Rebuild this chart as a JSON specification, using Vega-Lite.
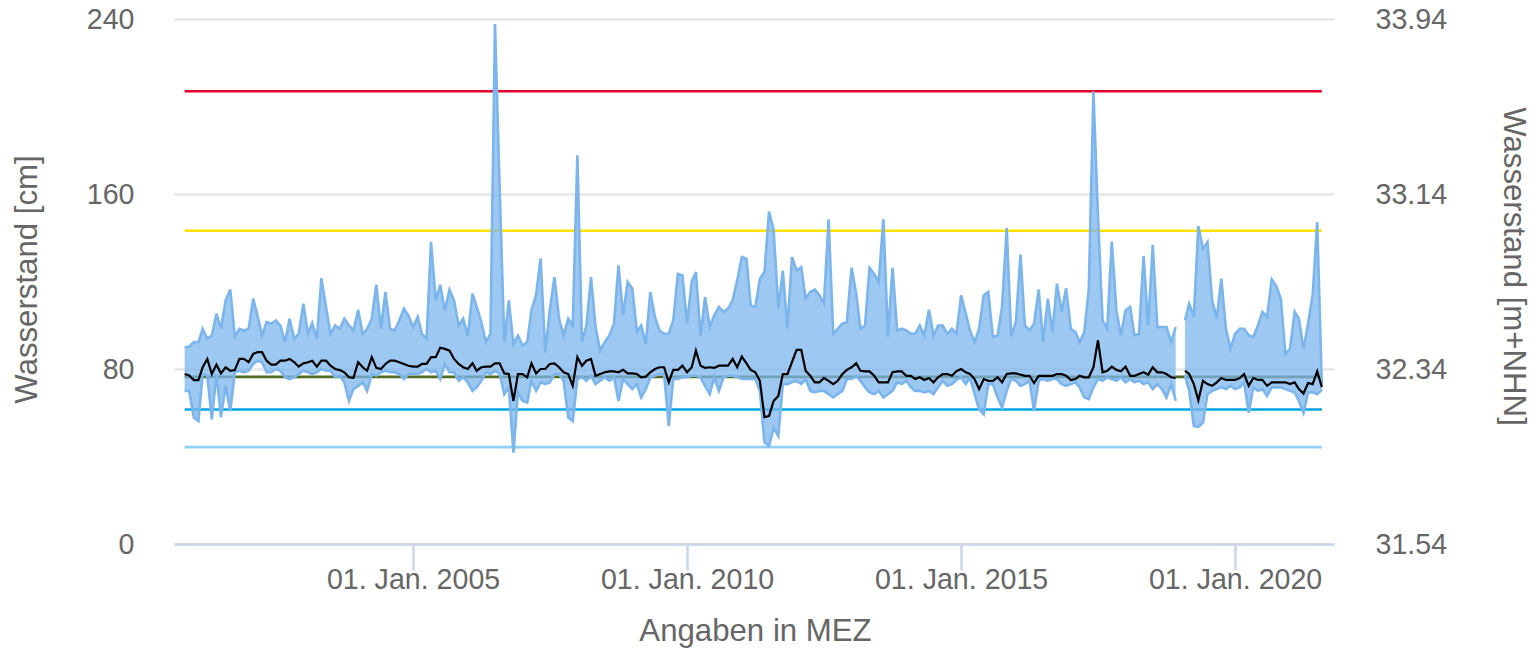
{
  "$schema": "https://vega.github.io/schema/vega-lite/v6.json",
  "width": 1160,
  "height": 525,
  "autosize": {"type": "none"},
  "padding": {"left": 174, "top": 19, "right": 206, "bottom": 104},
  "config": {
    "view": {"stroke": null},
    "font": "Liberation Sans",
    "axis": {
      "labelFont": "Liberation Sans", "titleFont": "Liberation Sans",
      "labelColor": "#666666", "titleColor": "#666666",
      "labelFontSize": 28.6, "titleFontSize": 31.2, "titleFontWeight": "normal",
      "labelFlush": false, "labelOverlap": false, "labelBound": false
    }
  },
  "datasets": {
    "limits": [
      {"name": "s1", "value": 207, "start": "2000-11-01", "end": "2021-08-01"},
      {"name": "s2", "value": 143.2, "start": "2000-11-01", "end": "2021-08-01"},
      {"name": "s3", "value": 76.4, "start": "2000-11-01", "end": "2021-08-01"},
      {"name": "s4", "value": 61.5, "start": "2000-11-01", "end": "2021-08-01"},
      {"name": "s5", "value": 44.3, "start": "2000-11-01", "end": "2021-08-01"}
    ],
    "series": [
      {"d":"2000-11-01","max":90,"min":70,"mean":77.7},
      {"d":"2000-12-01","max":90.2,"min":70,"mean":77},
      {"d":"2001-01-01","max":92.3,"min":57.8,"mean":74.9},
      {"d":"2001-02-01","max":92.3,"min":56.2,"mean":74.9},
      {"d":"2001-03-01","max":98.4,"min":77.7,"mean":80.8},
      {"d":"2001-04-01","max":93.8,"min":76.9,"mean":84.6},
      {"d":"2001-05-01","max":95.3,"min":57,"mean":77.7},
      {"d":"2001-06-01","max":105.3,"min":77.7,"mean":82},
      {"d":"2001-07-01","max":98.4,"min":58,"mean":78},
      {"d":"2001-08-01","max":111.4,"min":72.3,"mean":80.8},
      {"d":"2001-09-01","max":116.3,"min":60.8,"mean":79.2},
      {"d":"2001-10-01","max":94.9,"min":78.5,"mean":79.5},
      {"d":"2001-11-01","max":98.4,"min":79.2,"mean":84.6},
      {"d":"2001-12-01","max":97.6,"min":78.5,"mean":84.6},
      {"d":"2002-01-01","max":98.4,"min":79.2,"mean":83.1},
      {"d":"2002-02-01","max":112.2,"min":82.3,"mean":86.9},
      {"d":"2002-03-01","max":104.5,"min":83.8,"mean":87.7},
      {"d":"2002-04-01","max":95.3,"min":83.1,"mean":87.7},
      {"d":"2002-05-01","max":101.5,"min":78.5,"mean":83.8},
      {"d":"2002-06-01","max":100.7,"min":78.5,"mean":82},
      {"d":"2002-07-01","max":102.2,"min":80,"mean":82},
      {"d":"2002-08-01","max":99.9,"min":79.2,"mean":83.8},
      {"d":"2002-09-01","max":92.3,"min":76.2,"mean":83.8},
      {"d":"2002-10-01","max":103,"min":75.4,"mean":84.6},
      {"d":"2002-11-01","max":93.8,"min":76.2,"mean":83.1},
      {"d":"2002-12-01","max":96,"min":77.7,"mean":81.1},
      {"d":"2003-01-01","max":109.9,"min":79.2,"mean":82.6},
      {"d":"2003-02-01","max":96,"min":78.5,"mean":83.1},
      {"d":"2003-03-01","max":101,"min":77.7,"mean":83.8},
      {"d":"2003-04-01","max":93.8,"min":78.5,"mean":81.1},
      {"d":"2003-05-01","max":121.5,"min":80,"mean":83.8},
      {"d":"2003-06-01","max":108.4,"min":79.2,"mean":83.8},
      {"d":"2003-07-01","max":96,"min":79.2,"mean":81.5},
      {"d":"2003-08-01","max":99.9,"min":76.2,"mean":80},
      {"d":"2003-09-01","max":98.4,"min":76.9,"mean":79.5},
      {"d":"2003-10-01","max":103,"min":73.9,"mean":78.5},
      {"d":"2003-11-01","max":99.9,"min":65.4,"mean":76.2},
      {"d":"2003-12-01","max":97.6,"min":70.8,"mean":76},
      {"d":"2004-01-01","max":107.1,"min":72.3,"mean":83.1},
      {"d":"2004-02-01","max":96,"min":73.9,"mean":80.8},
      {"d":"2004-03-01","max":98.4,"min":70,"mean":79.2},
      {"d":"2004-04-01","max":103,"min":77.7,"mean":85.4},
      {"d":"2004-05-01","max":118.5,"min":77,"mean":80.5},
      {"d":"2004-06-01","max":98.4,"min":78.5,"mean":80},
      {"d":"2004-07-01","max":115.2,"min":79.2,"mean":82.3},
      {"d":"2004-08-01","max":98.4,"min":78.5,"mean":83.8},
      {"d":"2004-09-01","max":97.6,"min":78.5,"mean":83.8},
      {"d":"2004-10-01","max":102.2,"min":77.7,"mean":83.1},
      {"d":"2004-11-01","max":107.6,"min":75.4,"mean":82.3},
      {"d":"2004-12-01","max":104.5,"min":77.7,"mean":81.5},
      {"d":"2005-01-01","max":99.2,"min":77.7,"mean":81.1},
      {"d":"2005-02-01","max":103.8,"min":77.7,"mean":81.1},
      {"d":"2005-03-01","max":96.1,"min":78.5,"mean":82.3},
      {"d":"2005-04-01","max":93.8,"min":80,"mean":82.3},
      {"d":"2005-05-01","max":138,"min":78.5,"mean":85.4},
      {"d":"2005-06-01","max":111.4,"min":79.2,"mean":85.4},
      {"d":"2005-07-01","max":118.5,"min":75.4,"mean":89.7},
      {"d":"2005-08-01","max":106.8,"min":82.3,"mean":89.2},
      {"d":"2005-09-01","max":116.2,"min":78.5,"mean":88.4},
      {"d":"2005-10-01","max":111.4,"min":78.5,"mean":84.6},
      {"d":"2005-11-01","max":99.9,"min":74.6,"mean":82.3},
      {"d":"2005-12-01","max":103,"min":76.2,"mean":80.8},
      {"d":"2006-01-01","max":95.3,"min":73.9,"mean":80},
      {"d":"2006-02-01","max":114.5,"min":70,"mean":82.6},
      {"d":"2006-03-01","max":108.4,"min":71.6,"mean":79.2},
      {"d":"2006-04-01","max":101.5,"min":74.6,"mean":80.8},
      {"d":"2006-05-01","max":92.3,"min":78.5,"mean":81.1},
      {"d":"2006-06-01","max":96.1,"min":77.7,"mean":81.1},
      {"d":"2006-07-01","max":237.7,"min":79.2,"mean":82.6},
      {"d":"2006-08-01","max":163,"min":77.7,"mean":82.6},
      {"d":"2006-09-01","max":92.3,"min":68.5,"mean":78},
      {"d":"2006-10-01","max":111.4,"min":71.6,"mean":77.7},
      {"d":"2006-11-01","max":91.5,"min":41.7,"mean":65.4},
      {"d":"2006-12-01","max":95.3,"min":69.3,"mean":77.7},
      {"d":"2007-01-01","max":90.7,"min":65.4,"mean":77.7},
      {"d":"2007-02-01","max":92.3,"min":64.7,"mean":76.2},
      {"d":"2007-03-01","max":106.8,"min":74.6,"mean":82.6},
      {"d":"2007-04-01","max":114,"min":70,"mean":78},
      {"d":"2007-05-01","max":130.5,"min":73.9,"mean":80},
      {"d":"2007-06-01","max":87.7,"min":73.1,"mean":80},
      {"d":"2007-07-01","max":106.8,"min":73.9,"mean":82.3},
      {"d":"2007-08-01","max":122,"min":77.7,"mean":82.6},
      {"d":"2007-09-01","max":103,"min":77.7,"mean":80.8},
      {"d":"2007-10-01","max":95.3,"min":74.6,"mean":78.5},
      {"d":"2007-11-01","max":103,"min":57.8,"mean":77.7},
      {"d":"2007-12-01","max":99.9,"min":56.2,"mean":72.3},
      {"d":"2008-01-01","max":177.7,"min":75.4,"mean":85.4},
      {"d":"2008-02-01","max":92.3,"min":76.2,"mean":81.5},
      {"d":"2008-03-01","max":99.9,"min":74.6,"mean":83.8},
      {"d":"2008-04-01","max":122,"min":76.9,"mean":84.6},
      {"d":"2008-05-01","max":99.2,"min":73.1,"mean":76.9},
      {"d":"2008-06-01","max":88.4,"min":74.6,"mean":77.7},
      {"d":"2008-07-01","max":92.3,"min":76.2,"mean":78.5},
      {"d":"2008-08-01","max":95.3,"min":74.6,"mean":78.9},
      {"d":"2008-09-01","max":100.7,"min":76.2,"mean":78.9},
      {"d":"2008-10-01","max":127.4,"min":65.4,"mean":78.5},
      {"d":"2008-11-01","max":104.5,"min":75.4,"mean":79.6},
      {"d":"2008-12-01","max":119.8,"min":73.1,"mean":78},
      {"d":"2009-01-01","max":116.8,"min":70.8,"mean":78},
      {"d":"2009-02-01","max":96.9,"min":73.1,"mean":77.7},
      {"d":"2009-03-01","max":99.9,"min":67,"mean":76.2},
      {"d":"2009-04-01","max":91.5,"min":70.8,"mean":76.5},
      {"d":"2009-05-01","max":115.2,"min":76.2,"mean":78.5},
      {"d":"2009-06-01","max":103.8,"min":76.9,"mean":80},
      {"d":"2009-07-01","max":97.6,"min":77.7,"mean":80.8},
      {"d":"2009-08-01","max":96.1,"min":77.7,"mean":80.8},
      {"d":"2009-09-01","max":96.1,"min":53.9,"mean":73.9},
      {"d":"2009-10-01","max":102.2,"min":75.4,"mean":79.6},
      {"d":"2009-11-01","max":123.5,"min":75.4,"mean":79.6},
      {"d":"2009-12-01","max":122.8,"min":76.2,"mean":81.5},
      {"d":"2010-01-01","max":100.7,"min":76.2,"mean":78.5},
      {"d":"2010-02-01","max":119.8,"min":76.9,"mean":80.8},
      {"d":"2010-03-01","max":124.3,"min":76.9,"mean":88.4},
      {"d":"2010-04-01","max":95.3,"min":76.2,"mean":81.5},
      {"d":"2010-05-01","max":112.9,"min":72.3,"mean":80.5},
      {"d":"2010-06-01","max":99.2,"min":68.5,"mean":80.8},
      {"d":"2010-07-01","max":104.5,"min":76.2,"mean":80.5},
      {"d":"2010-08-01","max":108.4,"min":70,"mean":81.5},
      {"d":"2010-09-01","max":106.1,"min":76.2,"mean":81.5},
      {"d":"2010-10-01","max":107.6,"min":76.9,"mean":81.5},
      {"d":"2010-11-01","max":111.5,"min":76.9,"mean":84.6},
      {"d":"2010-12-01","max":120.5,"min":76.2,"mean":80.8},
      {"d":"2011-01-01","max":131.2,"min":75.4,"mean":85.7},
      {"d":"2011-02-01","max":130.4,"min":75.4,"mean":82.6},
      {"d":"2011-03-01","max":109.1,"min":75.4,"mean":79.6},
      {"d":"2011-04-01","max":108.4,"min":75.4,"mean":78.5},
      {"d":"2011-05-01","max":121.2,"min":70,"mean":74.6},
      {"d":"2011-06-01","max":124.5,"min":46.5,"mean":58},
      {"d":"2011-07-01","max":152,"min":44.8,"mean":58.5},
      {"d":"2011-08-01","max":143.4,"min":53.2,"mean":65.4},
      {"d":"2011-09-01","max":107.6,"min":49.3,"mean":67.7},
      {"d":"2011-10-01","max":125,"min":73.1,"mean":77.7},
      {"d":"2011-11-01","max":98.4,"min":73.1,"mean":77.7},
      {"d":"2011-12-01","max":131.2,"min":73.9,"mean":83.1},
      {"d":"2012-01-01","max":125,"min":74.6,"mean":88.7},
      {"d":"2012-02-01","max":126.6,"min":73.1,"mean":88.7},
      {"d":"2012-03-01","max":112.2,"min":75.4,"mean":79.2},
      {"d":"2012-04-01","max":115.2,"min":70,"mean":76.9},
      {"d":"2012-05-01","max":116.4,"min":69.3,"mean":73.9},
      {"d":"2012-06-01","max":113.7,"min":70,"mean":73.9},
      {"d":"2012-07-01","max":109.9,"min":70,"mean":75.9},
      {"d":"2012-08-01","max":148.4,"min":68.5,"mean":74.6},
      {"d":"2012-09-01","max":96.1,"min":67,"mean":73.1},
      {"d":"2012-10-01","max":98.4,"min":68.5,"mean":74.6},
      {"d":"2012-11-01","max":100.7,"min":70,"mean":77.7},
      {"d":"2012-12-01","max":101.5,"min":75.4,"mean":79.6},
      {"d":"2013-01-01","max":126.3,"min":75.4,"mean":80.8},
      {"d":"2013-02-01","max":114.5,"min":76.9,"mean":82.6},
      {"d":"2013-03-01","max":98.4,"min":74.6,"mean":79.2},
      {"d":"2013-04-01","max":99.9,"min":71.6,"mean":78.9},
      {"d":"2013-05-01","max":126.3,"min":69.3,"mean":78.9},
      {"d":"2013-06-01","max":123.5,"min":68.5,"mean":76.9},
      {"d":"2013-07-01","max":119.8,"min":70,"mean":73.9},
      {"d":"2013-08-01","max":148.4,"min":67,"mean":73.9},
      {"d":"2013-09-01","max":94.9,"min":68.5,"mean":73.9},
      {"d":"2013-10-01","max":126.3,"min":70,"mean":78.5},
      {"d":"2013-11-01","max":97.6,"min":73.9,"mean":78.9},
      {"d":"2013-12-01","max":98.4,"min":73.1,"mean":78.9},
      {"d":"2014-01-01","max":97.6,"min":74.6,"mean":76.9},
      {"d":"2014-02-01","max":96.1,"min":71.6,"mean":76.9},
      {"d":"2014-03-01","max":96.1,"min":70,"mean":75.4},
      {"d":"2014-04-01","max":99.9,"min":70,"mean":76.2},
      {"d":"2014-05-01","max":95.3,"min":69.3,"mean":75},
      {"d":"2014-06-01","max":107.1,"min":70,"mean":75.9},
      {"d":"2014-07-01","max":95.3,"min":68.5,"mean":73.9},
      {"d":"2014-08-01","max":99.9,"min":71.6,"mean":76.2},
      {"d":"2014-09-01","max":99.9,"min":74.6,"mean":77.7},
      {"d":"2014-10-01","max":96.1,"min":72.3,"mean":77.7},
      {"d":"2014-11-01","max":98.4,"min":73.1,"mean":76.9},
      {"d":"2014-12-01","max":96.1,"min":75,"mean":79},
      {"d":"2015-01-01","max":113.7,"min":76.2,"mean":80},
      {"d":"2015-02-01","max":105.3,"min":73.1,"mean":78.5},
      {"d":"2015-03-01","max":97.6,"min":76.2,"mean":77.7},
      {"d":"2015-04-01","max":92.3,"min":68.5,"mean":75.4},
      {"d":"2015-05-01","max":98.4,"min":61.6,"mean":70.8},
      {"d":"2015-06-01","max":113.7,"min":59.3,"mean":75.4},
      {"d":"2015-07-01","max":115.2,"min":73.1,"mean":74.6},
      {"d":"2015-08-01","max":94.6,"min":73.1,"mean":74.6},
      {"d":"2015-09-01","max":95.3,"min":67,"mean":76.2},
      {"d":"2015-10-01","max":108.4,"min":62.4,"mean":73.9},
      {"d":"2015-11-01","max":144.4,"min":70,"mean":77.7},
      {"d":"2015-12-01","max":94.9,"min":75.4,"mean":78},
      {"d":"2016-01-01","max":101.5,"min":74.6,"mean":78},
      {"d":"2016-02-01","max":132.3,"min":72.3,"mean":77.4},
      {"d":"2016-03-01","max":99.9,"min":73.1,"mean":76.9},
      {"d":"2016-04-01","max":97.6,"min":74.6,"mean":76.9},
      {"d":"2016-05-01","max":100.7,"min":60.8,"mean":73.6},
      {"d":"2016-06-01","max":116.4,"min":74.6,"mean":76.9},
      {"d":"2016-07-01","max":92.3,"min":75.4,"mean":76.9},
      {"d":"2016-08-01","max":112.2,"min":74.6,"mean":76.9},
      {"d":"2016-09-01","max":96.9,"min":75.4,"mean":76.9},
      {"d":"2016-10-01","max":119,"min":75.4,"mean":77.7},
      {"d":"2016-11-01","max":106.1,"min":73.1,"mean":77.7},
      {"d":"2016-12-01","max":117,"min":72.3,"mean":76.9},
      {"d":"2017-01-01","max":98.4,"min":73.1,"mean":74.9},
      {"d":"2017-02-01","max":96.9,"min":73.9,"mean":75.4},
      {"d":"2017-03-01","max":92.3,"min":71.6,"mean":76.9},
      {"d":"2017-04-01","max":96.9,"min":67,"mean":76.2},
      {"d":"2017-05-01","max":116.7,"min":66.2,"mean":76.2},
      {"d":"2017-06-01","max":207,"min":71.6,"mean":80.8},
      {"d":"2017-07-01","max":150,"min":75.4,"mean":93.2},
      {"d":"2017-08-01","max":102.2,"min":74.6,"mean":78.5},
      {"d":"2017-09-01","max":98.4,"min":76.2,"mean":79.2},
      {"d":"2017-10-01","max":138.3,"min":75.4,"mean":81.1},
      {"d":"2017-11-01","max":106.8,"min":74.6,"mean":79.6},
      {"d":"2017-12-01","max":95.3,"min":76.2,"mean":79},
      {"d":"2018-01-01","max":106.8,"min":73.9,"mean":81.1},
      {"d":"2018-02-01","max":108.4,"min":75.4,"mean":76.9},
      {"d":"2018-03-01","max":95.3,"min":73.9,"mean":76.9},
      {"d":"2018-04-01","max":96.1,"min":74.6,"mean":77.7},
      {"d":"2018-05-01","max":131.6,"min":73.1,"mean":78.5},
      {"d":"2018-06-01","max":99.9,"min":73.9,"mean":77.4},
      {"d":"2018-07-01","max":136.8,"min":70.8,"mean":80.8},
      {"d":"2018-08-01","max":99.2,"min":73.1,"mean":78.5},
      {"d":"2018-09-01","max":99.2,"min":70.8,"mean":78.5},
      {"d":"2018-10-01","max":99.2,"min":67,"mean":77.7},
      {"d":"2018-11-01","max":92.3,"min":73.1,"mean":76.2},
      {"d":"2018-12-01","max":99.2,"min":65.4,"mean":75.9},
      {"d":"2019-01-01","max":null,"min":null,"mean":null},
      {"d":"2019-02-01","max":102.2,"min":76.9,"mean":79.2},
      {"d":"2019-03-01","max":109.9,"min":70,"mean":77.7},
      {"d":"2019-04-01","max":103.8,"min":53.9,"mean":73.1},
      {"d":"2019-05-01","max":145.3,"min":53.5,"mean":65.7},
      {"d":"2019-06-01","max":135,"min":55.5,"mean":74.6},
      {"d":"2019-07-01","max":138,"min":68.5,"mean":73.1},
      {"d":"2019-08-01","max":111.4,"min":70,"mean":72.3},
      {"d":"2019-09-01","max":103,"min":70.8,"mean":73.9},
      {"d":"2019-10-01","max":121.3,"min":71.6,"mean":75.9},
      {"d":"2019-11-01","max":98.4,"min":70.8,"mean":75},
      {"d":"2019-12-01","max":89.2,"min":72.3,"mean":75},
      {"d":"2020-01-01","max":96.1,"min":70.8,"mean":75},
      {"d":"2020-02-01","max":98.4,"min":71.6,"mean":75.9},
      {"d":"2020-03-01","max":98.4,"min":73.9,"mean":77.7},
      {"d":"2020-04-01","max":95.3,"min":60,"mean":72.3},
      {"d":"2020-05-01","max":94.6,"min":71.6,"mean":75.9},
      {"d":"2020-06-01","max":99.9,"min":70,"mean":75},
      {"d":"2020-07-01","max":106.1,"min":70.8,"mean":75},
      {"d":"2020-08-01","max":103.8,"min":67.7,"mean":72.3},
      {"d":"2020-09-01","max":121,"min":71.6,"mean":73.9},
      {"d":"2020-10-01","max":118,"min":71.6,"mean":73.9},
      {"d":"2020-11-01","max":112,"min":71.6,"mean":73.9},
      {"d":"2020-12-01","max":86.9,"min":70.8,"mean":73.9},
      {"d":"2021-01-01","max":89.2,"min":70,"mean":73.1},
      {"d":"2021-02-01","max":106.1,"min":69.3,"mean":73.9},
      {"d":"2021-03-01","max":103,"min":65.4,"mean":70.8},
      {"d":"2021-04-01","max":89.2,"min":60,"mean":68.8},
      {"d":"2021-05-01","max":100.7,"min":69.3,"mean":73.6},
      {"d":"2021-06-01","max":114,"min":69.3,"mean":73.1},
      {"d":"2021-07-01","max":147.2,"min":68.5,"mean":78.9},
      {"d":"2021-08-01","max":72.5,"min":70.5,"mean":71.7}
    ]
  },
  "layer": [
    {
      "layer": [
        {
          "data": {"name": "limits"},
          "mark": {"type": "rule", "strokeWidth": 2.6},
          "encoding": {
            "x": {
              "field": "start", "type": "temporal",
              "scale": {"type": "utc", "domain": [{"year": 2000, "month": 8, "date": 22, "utc": true}, {"year": 2021, "month": 10, "date": 21, "utc": true}]},
              "axis": {
                "title": "Angaben in MEZ",
                "values": [{"year": 2005, "month": 1, "date": 1, "utc": true}, {"year": 2010, "month": 1, "date": 1, "utc": true}, {"year": 2015, "month": 1, "date": 1, "utc": true}, {"year": 2020, "month": 1, "date": 1, "utc": true}],
                "format": "%d. %b. %Y", "grid": false,
                "domainColor": "#ccd6eb", "domainWidth": 2.6,
                "tickColor": "#ccd6eb", "tickWidth": 2.6, "tickSize": 26,
                "labelBaseline": "alphabetic", "labelPadding": 18,
                "titleX": 581, "titleY": 96, "titleAlign": "center", "titleBaseline": "alphabetic"
              }
            },
            "x2": {"field": "end"},
            "y": {
              "field": "value", "type": "quantitative",
              "scale": {"domain": [0, 240], "nice": false, "zero": false},
              "axis": {
                "title": "Wasserstand [cm]", "values": [0, 80, 160, 240],
                "grid": true, "gridColor": "#e6e6e6", "gridWidth": 2.6,
                "domain": false, "ticks": false, "labelPadding": 40, "labelBaseline": "middle",
                "titleAngle": 270, "titleX": -147, "titleY": 260, "titleAlign": "center", "titleBaseline": "middle"
              }
            },
            "color": {
              "field": "name", "type": "nominal",
              "scale": {"domain": ["s1", "s2", "s3", "s4", "s5"], "range": ["#e4002b", "#ffe100", "#4e6b1f", "#00a5e3", "#8fd0f2"]},
              "legend": null
            }
          }
        },
        {
          "data": {"name": "series"},
          "mark": {"type": "area", "color": "#7cb5ec", "fillOpacity": 0.75, "strokeWidth": 0},
          "encoding": {
            "x": {
              "field": "d", "type": "temporal",
              "scale": {"type": "utc", "domain": [{"year": 2000, "month": 8, "date": 22, "utc": true}, {"year": 2021, "month": 10, "date": 21, "utc": true}]},
              "axis": {
                "title": "Angaben in MEZ",
                "values": [{"year": 2005, "month": 1, "date": 1, "utc": true}, {"year": 2010, "month": 1, "date": 1, "utc": true}, {"year": 2015, "month": 1, "date": 1, "utc": true}, {"year": 2020, "month": 1, "date": 1, "utc": true}],
                "format": "%d. %b. %Y", "grid": false,
                "domainColor": "#ccd6eb", "domainWidth": 2.6,
                "tickColor": "#ccd6eb", "tickWidth": 2.6, "tickSize": 26,
                "labelBaseline": "alphabetic", "labelPadding": 18,
                "titleX": 581, "titleY": 96, "titleAlign": "center", "titleBaseline": "alphabetic"
              }
            },
            "y": {
              "field": "max", "type": "quantitative",
              "scale": {"domain": [0, 240], "nice": false, "zero": false},
              "axis": {
                "title": "Wasserstand [cm]", "values": [0, 80, 160, 240],
                "grid": true, "gridColor": "#e6e6e6", "gridWidth": 2.6,
                "domain": false, "ticks": false, "labelPadding": 40, "labelBaseline": "middle",
                "titleAngle": 270, "titleX": -147, "titleY": 260, "titleAlign": "center", "titleBaseline": "middle"
              }
            },
            "y2": {"field": "min"}
          }
        },
        {
          "data": {"name": "series"},
          "mark": {"type": "line", "color": "#7cb5ec", "strokeWidth": 2.6},
          "encoding": {
            "x": {
              "field": "d", "type": "temporal",
              "scale": {"type": "utc", "domain": [{"year": 2000, "month": 8, "date": 22, "utc": true}, {"year": 2021, "month": 10, "date": 21, "utc": true}]},
              "axis": {
                "title": "Angaben in MEZ",
                "values": [{"year": 2005, "month": 1, "date": 1, "utc": true}, {"year": 2010, "month": 1, "date": 1, "utc": true}, {"year": 2015, "month": 1, "date": 1, "utc": true}, {"year": 2020, "month": 1, "date": 1, "utc": true}],
                "format": "%d. %b. %Y", "grid": false,
                "domainColor": "#ccd6eb", "domainWidth": 2.6,
                "tickColor": "#ccd6eb", "tickWidth": 2.6, "tickSize": 26,
                "labelBaseline": "alphabetic", "labelPadding": 18,
                "titleX": 581, "titleY": 96, "titleAlign": "center", "titleBaseline": "alphabetic"
              }
            },
            "y": {
              "field": "max", "type": "quantitative",
              "scale": {"domain": [0, 240], "nice": false, "zero": false},
              "axis": {
                "title": "Wasserstand [cm]", "values": [0, 80, 160, 240],
                "grid": true, "gridColor": "#e6e6e6", "gridWidth": 2.6,
                "domain": false, "ticks": false, "labelPadding": 40, "labelBaseline": "middle",
                "titleAngle": 270, "titleX": -147, "titleY": 260, "titleAlign": "center", "titleBaseline": "middle"
              }
            }
          }
        },
        {
          "data": {"name": "series"},
          "mark": {"type": "line", "color": "#7cb5ec", "strokeWidth": 2.6},
          "encoding": {
            "x": {
              "field": "d", "type": "temporal",
              "scale": {"type": "utc", "domain": [{"year": 2000, "month": 8, "date": 22, "utc": true}, {"year": 2021, "month": 10, "date": 21, "utc": true}]},
              "axis": {
                "title": "Angaben in MEZ",
                "values": [{"year": 2005, "month": 1, "date": 1, "utc": true}, {"year": 2010, "month": 1, "date": 1, "utc": true}, {"year": 2015, "month": 1, "date": 1, "utc": true}, {"year": 2020, "month": 1, "date": 1, "utc": true}],
                "format": "%d. %b. %Y", "grid": false,
                "domainColor": "#ccd6eb", "domainWidth": 2.6,
                "tickColor": "#ccd6eb", "tickWidth": 2.6, "tickSize": 26,
                "labelBaseline": "alphabetic", "labelPadding": 18,
                "titleX": 581, "titleY": 96, "titleAlign": "center", "titleBaseline": "alphabetic"
              }
            },
            "y": {
              "field": "min", "type": "quantitative",
              "scale": {"domain": [0, 240], "nice": false, "zero": false},
              "axis": {
                "title": "Wasserstand [cm]", "values": [0, 80, 160, 240],
                "grid": true, "gridColor": "#e6e6e6", "gridWidth": 2.6,
                "domain": false, "ticks": false, "labelPadding": 40, "labelBaseline": "middle",
                "titleAngle": 270, "titleX": -147, "titleY": 260, "titleAlign": "center", "titleBaseline": "middle"
              }
            }
          }
        }
      ]
    },
    {
      "data": {"name": "series"},
      "mark": {"type": "line", "color": "#000000", "strokeWidth": 2.2},
      "encoding": {
        "x": {
          "field": "d", "type": "temporal",
          "scale": {"type": "utc", "domain": [{"year": 2000, "month": 8, "date": 22, "utc": true}, {"year": 2021, "month": 10, "date": 21, "utc": true}]},
          "axis": {
            "title": "Angaben in MEZ",
            "values": [{"year": 2005, "month": 1, "date": 1, "utc": true}, {"year": 2010, "month": 1, "date": 1, "utc": true}, {"year": 2015, "month": 1, "date": 1, "utc": true}, {"year": 2020, "month": 1, "date": 1, "utc": true}],
            "format": "%d. %b. %Y", "grid": false,
            "domainColor": "#ccd6eb", "domainWidth": 2.6,
            "tickColor": "#ccd6eb", "tickWidth": 2.6, "tickSize": 26,
            "labelBaseline": "alphabetic", "labelPadding": 18,
            "titleX": 581, "titleY": 96, "titleAlign": "center", "titleBaseline": "alphabetic"
          }
        },
        "y": {
          "field": "mean", "type": "quantitative",
          "scale": {"domain": [0, 240], "nice": false, "zero": false},
          "axis": {
            "orient": "right",
            "title": "Wasserstand [m+NHN]",
            "values": [0, 80, 160, 240],
            "labelExpr": "format(31.54 + datum.value / 100, '.2f')",
            "grid": false, "domain": false, "ticks": false, "labelPadding": 41, "labelBaseline": "middle",
            "titleAngle": 90, "titleX": 178, "titleY": 247, "titleAlign": "center", "titleBaseline": "middle"
          }
        }
      }
    }
  ],
  "resolve": {"scale": {"y": "independent"}}
}
